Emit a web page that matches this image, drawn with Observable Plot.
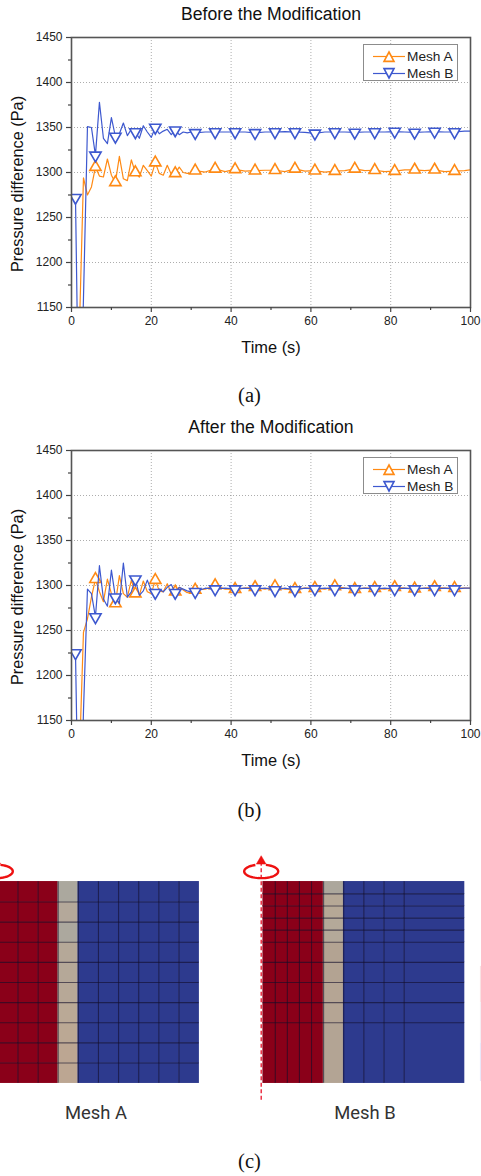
<!DOCTYPE html>
<html><head><meta charset="utf-8">
<script src="https://cdn.jsdelivr.net/npm/d3@7"></script>
<script src="https://cdn.jsdelivr.net/npm/@observablehq/plot@0.6"></script>
<style>
html,body{margin:0;padding:0;background:#fff;}
#page{position:relative;width:481px;height:1176px;overflow:hidden;font-family:"Liberation Sans",sans-serif;}
#page svg{display:block;}
.abs{position:absolute;}
.cap{position:absolute;font-family:"Liberation Serif",serif;font-size:20.5px;color:#111;transform:translate(-50%,-50%);white-space:nowrap;}
.mesh{position:absolute;font-family:Roboto,sans-serif;font-size:18.4px;color:#333;transform:translate(-50%,-50%);white-space:nowrap;}
.legend{position:absolute;box-sizing:border-box;background:#fff;border:1px solid #8c8c8c;width:95px;height:37px;}
.legend .row{position:absolute;left:0;height:17px;font-size:13.7px;line-height:17px;color:#222;white-space:nowrap;}
.legend .row span{position:absolute;left:43px;top:0;}
.legend svg{position:absolute;left:8px;top:0;}
</style></head><body><div id="page"></div>
<script>
const time = [1,2,3,4,5,6,7,8,9,10,11,12,13,14,15,16,17,18,19,20,21,22,23,24,25,26,27,28,29,30,
  31,33.5,36,38.5,41,43.5,46,48.5,51,53.5,56,58.5,61,63.5,66,68.5,71,73.5,76,78.5,81,83.5,86,88.5,91,93.5,96,98.5,100];
const markerTimes = [1,6,11,16,21,26,31,36,41,46,51,56,61,66,71,76,81,86,91,96];

const beforeA = [1000,1130,1294,1275,1284,1306,1296,1295,1315,1297,1289,1318,1293,1291,1314,1300,1295,1308,1302,1296,1311,1299,1297,1308,1298,1299,1306,1300,1299,1299,
  1302,1300.5,1304,1301,1303.5,1301.5,1302,1302.5,1302.5,1301,1304,1301.5,1302,1300.5,1301.5,1302,1304,1302,1302.5,1301,1301.5,1303,1303,1302,1303,1301,1301.5,1302,1303];
const beforeB = [1272,967,1160,1351,1350,1319,1378,1338,1332,1361,1340,1343,1355,1341,1348,1345,1338,1352,1345,1339,1350,1343,1346,1348,1342,1347,1342,1345,1344,1345,
  1344,1345,1345,1345,1345,1345,1344,1345,1345,1345.5,1345,1344.5,1343.5,1345,1345,1345,1344.5,1345,1345,1345,1345.5,1345,1344.5,1345,1345.5,1345,1345,1346,1346];
const afterA = [1000,1110,1248,1263,1287,1307,1293,1282,1307,1291,1280,1311,1291,1287,1306,1291,1289,1305,1293,1291,1306,1294,1293,1302,1292,1293,1298,1295,1292,1294,
  1295,1296,1300,1296,1296,1297,1298,1296,1299,1296,1296,1297,1297,1296,1299,1297,1296,1297,1297,1296,1298,1297,1296.5,1297,1298,1297,1297,1297,1297];
const afterB = [1225,967,1160,1296,1291,1265,1322,1285,1277,1317,1287,1280,1325,1287,1293,1307,1289,1294,1306,1294,1292,1296,1293,1298,1301,1292,1298,1296,1294,1293,
  1293,1297,1296,1297,1296,1297,1296,1297,1295,1297,1295,1297,1296,1297,1296,1297,1296,1297,1296,1297,1296,1297,1296,1297,1296,1297,1296,1297,1297];

const majorX = [0,20,40,60,80,100];
const minorX = [10,30,50,70,90];
const majorY = [1150,1200,1250,1300,1350,1400,1450];
const minorY = [1175,1225,1275,1325,1375,1425];
const gridX = [20,40,60,80];
const gridY = [1200,1250,1300,1350,1400];

const seriesNames = ["Mesh A","Mesh B"];
const orange = "#ff8a14", blue = "#3d58cf";

const meshAr = [0,1,2,3,4,5,6,7,8,9,10];
const meshAz = [0,1,2,3,4,5,6,7,8,9,10];
const meshBr = [0,0.6,1.2,1.8,2.4,3,4,5,6,7,10];
const meshBz = [0,3,4,5,6,7,7.6,8.2,8.8,9.4,10];
const tanTopDownA = ["#aba89e","#b4a89a","#aca89e","#b5a898","#b5a898","#b7a897","#baa996","#bba894","#bca692","#bca692"];
const tanTopDownB = ["#aca79c","#b6a896","#b6a896","#b4a999","#b4a999","#b3a392","#b3a392","#b5a594","#b5a594","#b3a494"];
const barZ1 = [5.8,4,2], barZ2 = [4,2,0.08], barFill = ["#f9e2e3","#f4eef3","#e8e8f9"];

const page = d3.select("#page").node();

function place(node, left, top){ node.classList.add("abs"); node.style.left=left+"px"; node.style.top=top+"px"; page.appendChild(node); }

function chart(title, a, b, top){
  const rows = s => time.map((t,i)=>({t, v:s[i]}));
  const rowsA = rows(a), rowsB = rows(b);
  const marked = r => r.filter(d=>markerTimes.includes(d.t));
  const p = Plot.plot({
    width:481, height:360, marginLeft:71, marginRight:11, marginTop:37, marginBottom:53,
    style:{fontFamily:"Liberation Sans",fontSize:"12px",background:"transparent",color:"#222"},
    x:{domain:[0,100]}, y:{domain:[1150,1450]},
    marks:[
      Plot.gridX(gridX,{stroke:"#8a8a8a",strokeOpacity:0.7,strokeDasharray:"1,2",strokeWidth:1}),
      Plot.gridY(gridY,{stroke:"#8a8a8a",strokeOpacity:0.7,strokeDasharray:"1,2",strokeWidth:1}),
      Plot.line(rowsA,{x:"t",y:"v",stroke:orange,strokeWidth:1.2,clip:true}),
      Plot.dot(marked(rowsA),{x:"t",y:"v",symbol:"triangle",r:4.2,fill:"#fff",stroke:orange,strokeWidth:1.6,clip:true}),
      Plot.line(rowsB,{x:"t",y:"v",stroke:blue,strokeWidth:1.2,clip:true}),
      Plot.dot(marked(rowsB),{x:"t",y:"v",symbol:"triangle",rotate:180,r:4.2,fill:"#fff",stroke:blue,strokeWidth:1.6,clip:true}),
      Plot.frame({stroke:"#555",strokeWidth:1.6}),
      Plot.axisX(majorX,{anchor:"bottom",tickSize:5,tickPadding:4,label:null,stroke:"#444",strokeWidth:1.2,fill:"#222",tickFormat:"d"}),
      Plot.axisX(minorX,{anchor:"bottom",tickSize:3,tickFormat:()=>"",label:null,stroke:"#444",strokeWidth:1.2}),
      Plot.axisY(majorY,{anchor:"left",tickSize:5,tickPadding:4,label:null,stroke:"#444",strokeWidth:1.2,fill:"#222",tickFormat:"d"}),
      Plot.axisY(minorY,{anchor:"left",tickSize:3,tickFormat:()=>"",label:null,stroke:"#444",strokeWidth:1.2}),
      Plot.text([title],{text:d=>d,frameAnchor:"top",dy:-30,fontSize:17.6,fill:"#111"}),
      Plot.text(["Time (s)"],{text:d=>d,frameAnchor:"bottom",dy:45,fontSize:16.4,fill:"#111"}),
      Plot.text(["Pressure difference (Pa)"],{text:d=>d,frameAnchor:"left",textAnchor:"middle",dx:-54,dy:11.5,rotate:-90,fontSize:16.3,fill:"#111"})
    ]
  });
  place(p,0,top);
}
chart("Before the Modification",beforeA,beforeB,0);
chart("After the Modification",afterA,afterB,413);

function legend(top){
  const box = document.createElement("div");
  box.className="legend"; box.style.left="363px"; box.style.top=top+"px";
  seriesNames.forEach((name,i)=>{
    const row = document.createElement("div");
    row.className="row"; row.style.top=(3+i*17)+"px"; row.style.width="95px";
    const color = i?blue:orange;
    row.innerHTML = `<svg width="34" height="17"><line x1="1" x2="33" y1="8.5" y2="8.5" stroke="${color}" stroke-width="1.2"/><path d="M17 ${i?13:4} L22 ${i?3.6:13.4} L12 ${i?3.6:13.4} Z" fill="#fff" stroke="${color}" stroke-width="1.6"/></svg><span>${name}</span>`;
    box.appendChild(row);
  });
  page.appendChild(box);
}
legend(44); legend(457);

const ring = {draw(ctx){
  const rx=17, ry=6.8;
  for(let deg=-74, first=true; deg<=254; deg+=6, first=false){
    const a=deg*Math.PI/180, px=rx*Math.cos(a), py=ry*Math.sin(a);
    if(first) ctx.moveTo(px,py); else ctx.lineTo(px,py);
  }
}};

function meshPlot(rEdges, zEdges, tan, domainX, left, width, extras){
  const cells = [];
  for(let i=0;i<rEdges.length-1;i++) for(let j=0;j<zEdges.length-1;j++){
    const r1=rEdges[i], r2=rEdges[i+1], z1=zEdges[j], z2=zEdges[j+1];
    const fill = r2<=3 ? "#8a0019" : r2<=4 ? tan[zEdges.length-2-j] : "#2d3a8e";
    cells.push({r1,r2,z1,z2,fill});
  }
  const gridLine = {stroke:"#120e2a",strokeWidth:1.1,strokeOpacity:0.6};
  const rMax = rEdges[rEdges.length-1], zMax = zEdges[zEdges.length-1];
  const p = Plot.plot({
    width, height:255, margin:0,
    x:{domain:domainX,axis:null}, y:{domain:[-1.11,11.557],axis:null},
    color:{type:"identity"},
    style:{background:"transparent"},
    marks:[
      Plot.rect(cells,{x1:"r1",x2:"r2",y1:"z1",y2:"z2",fill:"fill",inset:-0.3}),
      Plot.ruleX(rEdges.slice(1,-1),{y1:zEdges[0],y2:zMax,...gridLine}),
      Plot.ruleY(zEdges.slice(1,-1),{x1:rEdges[0],x2:rMax,...gridLine}),
      Plot.ruleX([-0.1],{y1:-0.85,y2:10.9,stroke:"#e8132a",strokeWidth:1.3,strokeDasharray:"4,2.5"}),
      Plot.dot([{r:-0.1,z:10.52}],{x:"r",y:"z",symbol:ring,r:1,fill:"none",stroke:"#ee1111",strokeWidth:2.4}),
      Plot.dot([{r:-0.1,z:11.02}],{x:"r",y:"z",symbol:"triangle",r:3.6,fill:"#ee1111",stroke:"#ee1111",strokeWidth:0.5}),
      ...extras
    ]
  });
  place(p,left,850);
}
meshPlot(meshAr,meshAz,tanTopDownA,[0.134,12.056],0,240,[]);
meshPlot(meshBr,meshBz,tanTopDownB,[-1.128,10.844],240,241,[
  Plot.rect(barZ1.map((z,i)=>({z1:z,z2:barZ2[i],fill:barFill[i]})),{x1:()=>10.79,x2:()=>10.85,y1:"z1",y2:"z2",fill:"fill"})
]);

function label(cls,text,x,y){
  const d=document.createElement("div"); d.className=cls; d.textContent=text;
  d.style.left=x+"px"; d.style.top=y+"px"; page.appendChild(d);
}
label("cap","(a)",249.5,395);
label("cap","(b)",249.5,810);
label("cap","(c)",249.5,1161);
label("mesh",seriesNames[0],96,1112);
label("mesh",seriesNames[1],365,1112);
</script></body></html>
